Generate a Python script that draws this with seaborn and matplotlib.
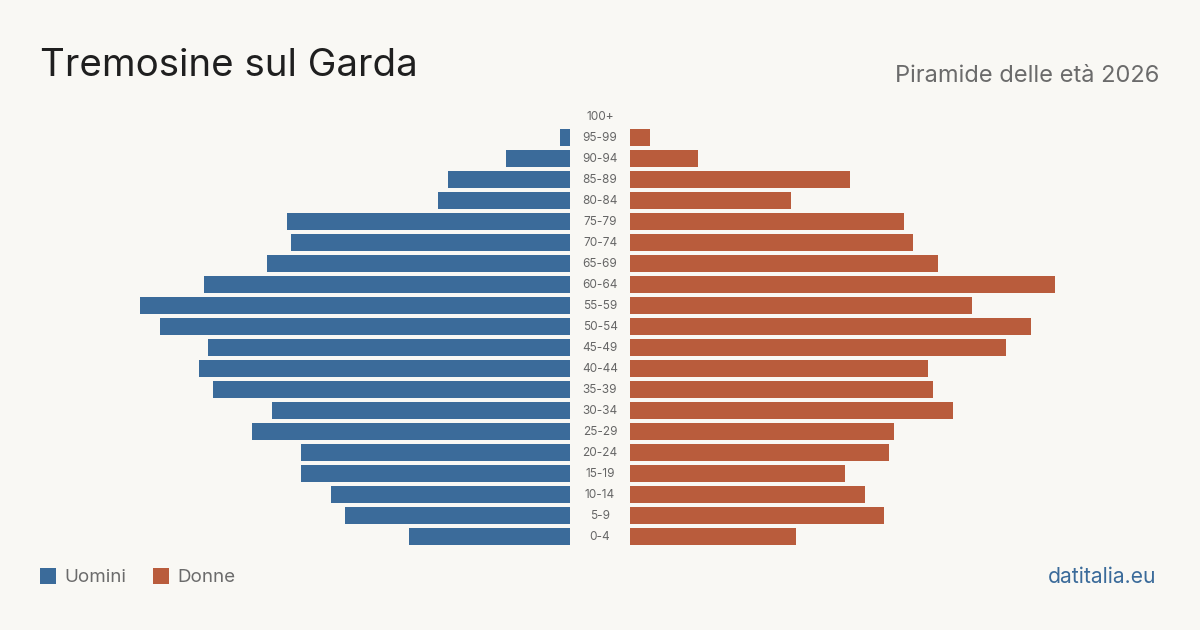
import matplotlib
matplotlib.use("Agg")
import matplotlib.pyplot as plt
import seaborn as sns
import pandas as pd
from matplotlib.patches import Rectangle

age_groups = ["100+", "95-99", "90-94", "85-89", "80-84", "75-79", "70-74", "65-69",
              "60-64", "55-59", "50-54", "45-49", "40-44", "35-39", "30-34",
              "25-29", "20-24", "15-19", "10-14", "5-9", "0-4"]
men = [0, 1.0, 6.4, 12.2, 13.2, 28.3, 27.9, 30.3, 36.6, 43.0, 41.0, 36.2, 37.1,
       35.7, 29.8, 31.8, 26.9, 26.9, 23.9, 22.5, 16.1]
women = [0, 2.0, 6.8, 22.0, 16.1, 27.4, 28.3, 30.8, 42.5, 34.2, 40.1, 37.6, 29.8,
         30.3, 32.3, 26.4, 25.9, 21.5, 23.5, 25.4, 16.6]

title = "Tremosine sul Garda"
subtitle = "Piramide delle età 2026"
legend_labels = ["Uomini", "Donne"]
source = "datitalia.eu"

BG = "#f9f8f4"
BLUE = "#3b6b9a"
RUST = "#b95c3c"

sns.set_theme(style="white")
plt.rcParams["font.family"] = ["Inter", "DejaVu Sans"]

df = pd.DataFrame({"age": age_groups, "men": men, "women": women})

W, H = 1200, 630
fig = plt.figure(figsize=(12, 6.3), dpi=100, facecolor=BG)

bottom = 1 - 546.5 / H
height = (546.5 - 106.5) / H
axL = fig.add_axes([0, bottom, 570 / W, height])
axR = fig.add_axes([630 / W, bottom, 570 / W, height])

sns.barplot(data=df, x="men", y="age", order=age_groups, color=BLUE,
            width=0.81, saturation=1, linewidth=0, ax=axL)
sns.barplot(data=df, x="women", y="age", order=age_groups, color=RUST,
            width=0.81, saturation=1, linewidth=0, ax=axR)

axL.set_xlim(57, 0)
axR.set_xlim(0, 57)
for ax in (axL, axR):
    ax.set_ylim(20.5, -0.5)
    ax.set_facecolor("none")
    ax.axis("off")

# age labels in the middle
for i, lab in enumerate(age_groups):
    y_px = 117.5 + i * (536.5 - 117.5) / 20
    fig.text(600 / W, 1 - y_px / H, lab, ha="center", va="center",
             fontsize=8.5, color="#666666")

fig.text(40 / W, 1 - 66 / H, title, ha="left", va="center",
         fontsize=27.7, color="#1f1f1f")
fig.text(1159 / W, 1 - 76 / H, subtitle, ha="right", va="center",
         fontsize=17, color="#6b6b6b")

# legend
for x0, lab, col in [(40, legend_labels[0], BLUE), (153, legend_labels[1], RUST)]:
    fig.patches.append(Rectangle((x0 / W, 1 - 584 / H), 16 / W, 16 / H,
                                 transform=fig.transFigure, color=col, lw=0))
    fig.text((x0 + 24) / W, 1 - 577 / H, lab, ha="left", va="center",
             fontsize=13.5, color="#6b6b6b")

fig.text(1156 / W, 1 - 577 / H, source, ha="right", va="center",
         fontsize=15.2, color=BLUE)

fig.savefig("out.png", dpi=100, facecolor=BG)
